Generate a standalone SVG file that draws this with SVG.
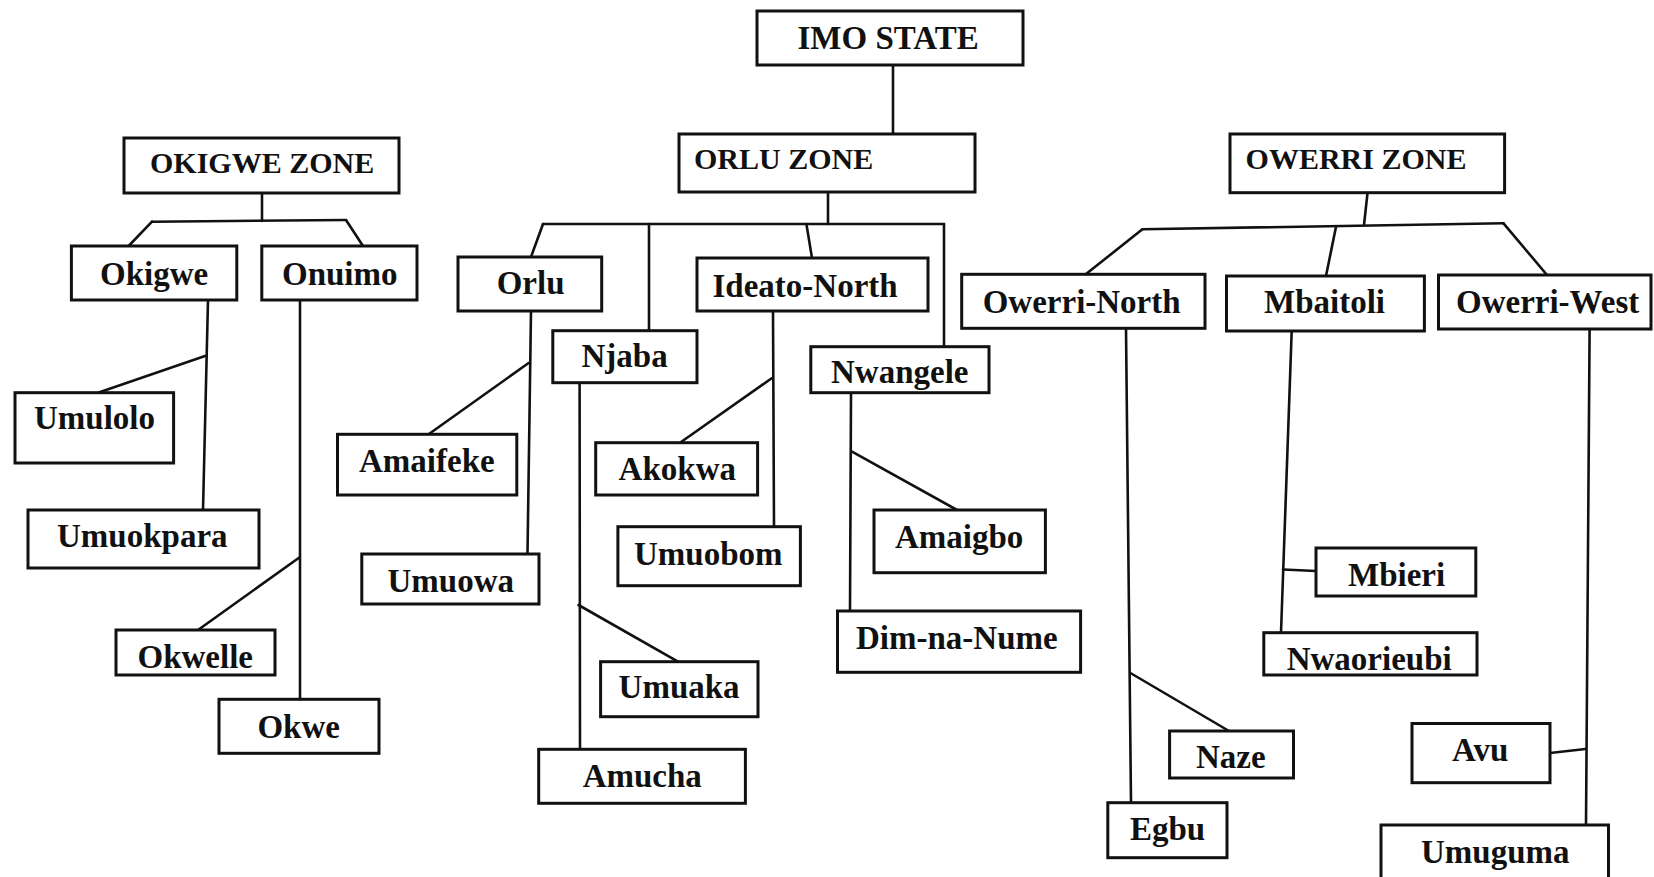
<svg xmlns="http://www.w3.org/2000/svg" width="1654" height="877" viewBox="0 0 1654 877">
<style>
.box{fill:#fff;stroke:#111;stroke-width:3}
.t{font-family:"Liberation Serif","Times New Roman",serif;font-weight:bold;font-size:33px;fill:#111}
.z{font-size:30px}
.c line{stroke:#111;stroke-width:2.6;stroke-linecap:round}
</style>
<rect width="1654" height="877" fill="#fff"/>
<g class="c" id="connectors">
<line x1="893" y1="65" x2="893" y2="134"/>
<line x1="828" y1="192" x2="828" y2="224"/>
<line x1="543" y1="224" x2="944" y2="224"/>
<line x1="543" y1="224" x2="531" y2="257"/>
<line x1="649" y1="224" x2="649" y2="331"/>
<line x1="806.4" y1="224" x2="812" y2="258"/>
<line x1="944" y1="224" x2="944" y2="347"/>
<line x1="262" y1="193" x2="262" y2="221"/>
<line x1="152" y1="221.7" x2="346" y2="220"/>
<line x1="152" y1="221.7" x2="128.6" y2="246"/>
<line x1="346" y1="220" x2="363" y2="246"/>
<line x1="1367.5" y1="193" x2="1364" y2="225"/>
<line x1="1142.4" y1="229.3" x2="1503.5" y2="223.3"/>
<line x1="1142.4" y1="229.3" x2="1085.7" y2="274.3"/>
<line x1="1336" y1="226.7" x2="1326" y2="276"/>
<line x1="1503.5" y1="223.3" x2="1547" y2="275"/>
<line x1="208" y1="300" x2="203" y2="510"/>
<line x1="205" y1="356" x2="98" y2="392.7"/>
<line x1="300" y1="300" x2="300" y2="699.3"/>
<line x1="299" y1="557.7" x2="198" y2="630"/>
<line x1="531" y1="311" x2="527.5" y2="554"/>
<line x1="528.6" y1="363" x2="428.6" y2="434.3"/>
<line x1="579.6" y1="382.7" x2="580" y2="749.3"/>
<line x1="578.5" y1="605" x2="678" y2="661.7"/>
<line x1="773" y1="311" x2="774" y2="526.7"/>
<line x1="771.7" y1="378.3" x2="680" y2="442.7"/>
<line x1="851" y1="392.7" x2="850" y2="611"/>
<line x1="852" y1="451.7" x2="957" y2="510"/>
<line x1="1126" y1="328.3" x2="1131" y2="802.7"/>
<line x1="1130.4" y1="673" x2="1229" y2="731"/>
<line x1="1291.7" y1="331" x2="1281" y2="632.7"/>
<line x1="1283" y1="569.5" x2="1316" y2="571"/>
<line x1="1589.6" y1="329" x2="1586" y2="825"/>
<line x1="1585.4" y1="749" x2="1550" y2="753"/>
</g>
<g id="imo_state"><rect class="box" x="757" y="11" width="266" height="54"/><text class="t" x="797.5" y="49">IMO STATE</text></g>
<g id="okigwe_zone"><rect class="box" x="124" y="138" width="275" height="55"/><text class="t z" x="150" y="172.7">OKIGWE ZONE</text></g>
<g id="orlu_zone"><rect class="box" x="679" y="134" width="296" height="58"/><text class="t z" x="694" y="169.3">ORLU ZONE</text></g>
<g id="owerri_zone"><rect class="box" x="1230" y="134" width="274.6" height="58.7"/><text class="t z" x="1245.6" y="169">OWERRI ZONE</text></g>
<g id="okigwe"><rect class="box" x="71.4" y="246" width="165.4" height="54"/><text class="t" x="100" y="285">Okigwe</text></g>
<g id="onuimo"><rect class="box" x="261.8" y="246" width="155.2" height="54"/><text class="t" x="282" y="285">Onuimo</text></g>
<g id="orlu"><rect class="box" x="458" y="257" width="143.7" height="54"/><text class="t" x="496.7" y="294.3">Orlu</text></g>
<g id="njaba"><rect class="box" x="552.8" y="330.7" width="144.2" height="52"/><text class="t" x="581.5" y="366.7">Njaba</text></g>
<g id="ideato_north"><rect class="box" x="697" y="258" width="231" height="53"/><text class="t" x="712.5" y="296.7">Ideato-North</text></g>
<g id="nwangele"><rect class="box" x="810.8" y="346.7" width="178.2" height="46"/><text class="t" x="831" y="383.3">Nwangele</text></g>
<g id="owerri_north"><rect class="box" x="961.7" y="274.3" width="243.3" height="54"/><text class="t" x="982.7" y="312.7">Owerri-North</text></g>
<g id="mbaitoli"><rect class="box" x="1226.5" y="276" width="197.9" height="55"/><text class="t" x="1264" y="313.3">Mbaitoli</text></g>
<g id="owerri_west"><rect class="box" x="1438.5" y="275" width="212.5" height="54"/><text class="t" x="1456" y="313.3">Owerri-West</text></g>
<g id="umulolo"><rect class="box" x="15" y="392.7" width="158.6" height="70.3"/><text class="t" x="34" y="429">Umulolo</text></g>
<g id="umuokpara"><rect class="box" x="28" y="510" width="231" height="58"/><text class="t" x="57" y="547">Umuokpara</text></g>
<g id="okwelle"><rect class="box" x="116" y="630" width="159" height="45"/><text class="t" x="137.5" y="667.7">Okwelle</text></g>
<g id="okwe"><rect class="box" x="219" y="699.3" width="160" height="54"/><text class="t" x="257.4" y="738.3">Okwe</text></g>
<g id="amaifeke"><rect class="box" x="337.5" y="434.3" width="179.3" height="60.7"/><text class="t" x="359" y="471.7">Amaifeke</text></g>
<g id="umuowa"><rect class="box" x="361.8" y="554" width="177.2" height="50"/><text class="t" x="387.5" y="591.7">Umuowa</text></g>
<g id="umuaka"><rect class="box" x="600.6" y="661.7" width="157.4" height="55"/><text class="t" x="618.6" y="698.3">Umuaka</text></g>
<g id="amucha"><rect class="box" x="538.7" y="749.3" width="206.7" height="54"/><text class="t" x="582.7" y="786.7">Amucha</text></g>
<g id="akokwa"><rect class="box" x="595.7" y="442.7" width="161.9" height="52.3"/><text class="t" x="618.6" y="480">Akokwa</text></g>
<g id="umuobom"><rect class="box" x="617.9" y="526.7" width="182.5" height="59"/><text class="t" x="634" y="565">Umuobom</text></g>
<g id="amaigbo"><rect class="box" x="874" y="510" width="171.4" height="62.7"/><text class="t" x="895" y="548.3">Amaigbo</text></g>
<g id="dim_na_nume"><rect class="box" x="837.5" y="611" width="243.1" height="61.3"/><text class="t" x="856" y="649.3">Dim-na-Nume</text></g>
<g id="naze"><rect class="box" x="1169.6" y="731" width="123.9" height="47"/><text class="t" x="1196" y="767.6">Naze</text></g>
<g id="egbu"><rect class="box" x="1107.8" y="802.7" width="119.2" height="55"/><text class="t" x="1130" y="840">Egbu</text></g>
<g id="mbieri"><rect class="box" x="1316" y="548" width="159.8" height="48"/><text class="t" x="1348" y="585.7">Mbieri</text></g>
<g id="nwaorieubi"><rect class="box" x="1263.8" y="632.7" width="213.2" height="42.3"/><text class="t" x="1286.7" y="669.5">Nwaorieubi</text></g>
<g id="avu"><rect class="box" x="1412" y="723.5" width="138" height="59.2"/><text class="t" x="1452" y="761.4">Avu</text></g>
<g id="umuguma"><rect class="box" x="1381" y="825" width="227.5" height="56"/><text class="t" x="1421" y="862.7">Umuguma</text></g>
</svg>
